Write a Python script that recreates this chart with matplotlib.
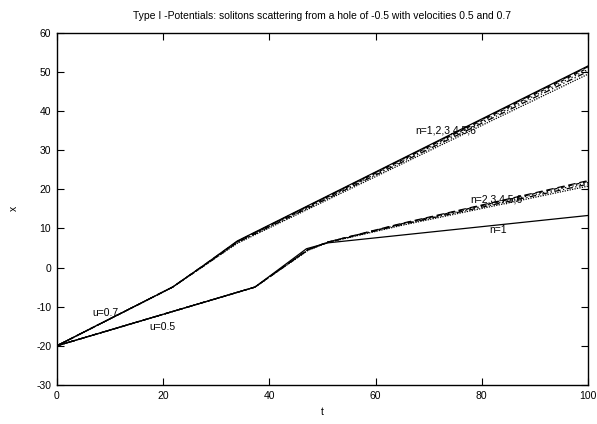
import matplotlib
matplotlib.use("Agg")
import matplotlib.pyplot as plt

plt.rcParams['font.family'] = ['Liberation Sans', 'DejaVu Sans']
plt.rcParams['axes.unicode_minus'] = False

# soliton with u=0.7 (all n give nearly the same path)
t_fast = [0, 21.8, 28, 34, 100]
x_fast = {
	1: [-20, -5.0, 0.9, 6.8, 51.5],
	2: [-20, -5.0, 0.9, 6.7, 51.3],
	3: [-20, -5.0, 0.8, 6.6, 51.0],
	4: [-20, -5.0, 0.8, 6.5, 50.6],
	5: [-20, -5.0, 0.7, 6.4, 50.1],
	6: [-20, -5.0, 0.7, 6.2, 49.4],
}

# soliton with u=0.5 (n=1 splits off after the hole)
t_slow_n1 = [0, 37.3, 47, 51, 65, 100]
x_slow_n1 = [-20, -5.0, 4.8, 6.3, 8.3, 13.3]
t_slow = [0, 37.3, 47.3, 51, 65, 100]
x_slow = {
	2: [-20, -5.0, 4.6, 6.5, 11.3, 22.2],
	3: [-20, -5.0, 4.6, 6.5, 11.2, 22.0],
	4: [-20, -5.0, 4.5, 6.5, 11.1, 21.7],
	5: [-20, -5.0, 4.5, 6.4, 11.0, 21.3],
	6: [-20, -5.0, 4.4, 6.4, 10.8, 20.8],
}

styles = {
	1: '-',
	2: (0, (6, 3)),
	3: (0, (3, 3)),
	4: (0, (1, 2)),
	5: (0, (5, 2, 1, 2)),
	6: (0, (1, 1)),
}

fig = plt.figure(figsize=(5.97, 4.24), dpi=100)
ax = fig.add_axes([0.095, 0.092, 0.89, 0.831])

for n in range(1, 7):
	ax.plot(t_fast, x_fast[n], color='black', lw=0.9, linestyle=styles[n])

ax.plot(t_slow_n1, x_slow_n1, color='black', lw=0.9, linestyle=styles[1])
for n in range(2, 7):
	ax.plot(t_slow, x_slow[n], color='black', lw=0.9, linestyle=styles[n])

fs = 7.5
ax.text(9.1, -11.7, "u=0.7", fontsize=fs, ha='center', va='center')
ax.text(19.9, -15.2, "u=0.5", fontsize=fs, ha='center', va='center')
ax.text(73.3, 35.0, "n=1,2,3,4,5,6", fontsize=fs, ha='center', va='center')
ax.text(82.7, 17.5, "n=2,3,4,5,6", fontsize=fs, ha='center', va='center')
ax.text(83.0, 9.6, "n=1", fontsize=fs, ha='center', va='center')

ax.set_xlim(0, 100)
ax.set_ylim(-30, 60)
ax.set_xticks(range(0, 101, 20))
ax.set_yticks(range(-30, 61, 10))
ax.tick_params(direction='in', length=5, width=0.8, labelsize=fs, top=True, right=True, pad=4)
for s in ax.spines.values():
	s.set_linewidth(1.0)

ax.set_xlabel("t", fontsize=fs, labelpad=5)
ax.set_ylabel("x", fontsize=fs, labelpad=12)
ax.set_title("Type I -Potentials: solitons scattering from a hole of -0.5 with velocities 0.5 and 0.7", fontsize=fs, pad=10)

fig.savefig("out.png", dpi=100)
